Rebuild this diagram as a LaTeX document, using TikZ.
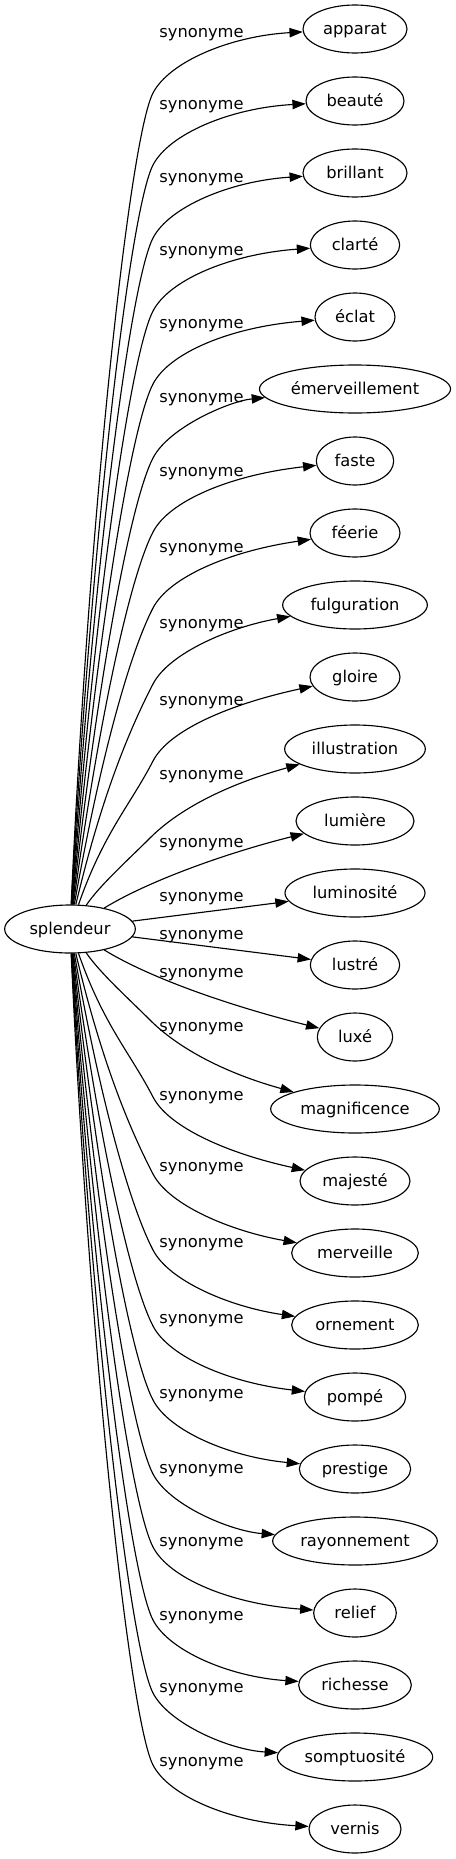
\documentclass[tikz,border=0pt]{standalone}
\usepackage{fontspec}
\setmainfont{DejaVu Sans}
\usetikzlibrary{arrows.meta,shapes.geometric}
\tikzset{
  term/.style={draw, ellipse, line width=0.85pt, inner sep=0pt, minimum height=36pt,
    text height=9.2pt, text depth=0.6pt, font=\fontsize{12.2pt}{14pt}\selectfont, minimum width=#1},
  lbl/.style={anchor=base, inner sep=0pt, font=\fontsize{12.2pt}{14pt}\selectfont},
  syn/.style={line width=0.85pt, -{Triangle[length=10pt,width=7pt]}},
}
\newcommand\topsyn[3]{\draw[syn] (splendeur) .. controls ({90+1.5*#2},{(965+#3)/2}) and (130,{#3+104.5}) .. (153,{#3+60}) .. controls (169,{#3+29}) and (230,{#3+3}) .. (#1);}
\newcommand\botsyn[3]{\draw[syn] (splendeur) .. controls ({90+1.5*#2},{1858-(965+#3)/2}) and (130,{1858-#3-104.5}) .. (153,{1858-#3-60}) .. controls (169,{1858-#3-29}) and (230,{1858-#3-3}) .. (#1);}
\begin{document}
\begin{tikzpicture}[x=0.75pt,y=-0.75pt]
\useasboundingbox (0,0) rectangle (456,1859);
\node[term=98pt] (splendeur) at (70,929) {splendeur};
\node[term=78pt] (apparat) at (355,29) {apparat};
\node[term=73.5pt] (beaute) at (355,101) {beauté};
\node[term=78pt] (brillant) at (355,173) {brillant};
\node[term=67pt] (clarte) at (355,245) {clarté};
\node[term=60pt] (eclat) at (355,317) {éclat};
\node[term=143.3pt] (emerveillement) at (355,389) {émerveillement};
\node[term=58pt] (faste) at (355,461) {faste};
\node[term=67.5pt] (feerie) at (355,533) {féerie};
\node[term=108.5pt] (fulguration) at (355,605) {fulguration};
\node[term=67.5pt] (gloire) at (355,677) {gloire};
\node[term=105.5pt] (illustration) at (355,749) {illustration};
\node[term=88.5pt] (lumiere) at (355,821) {lumière};
\node[term=105pt] (luminosite) at (355,893) {luminosité};
\node[term=67pt] (lustre) at (355,965) {lustré};
\node[term=56.5pt] (luxe) at (355,1037) {luxé};
\node[term=126.5pt] (magnificence) at (355,1109) {magnificence};
\node[term=82.5pt] (majeste) at (355,1181) {majesté};
\node[term=95pt] (merveille) at (355,1253) {merveille};
\node[term=95pt] (ornement) at (355,1325) {ornement};
\node[term=76pt] (pompe) at (355,1397) {pompé};
\node[term=83.5pt] (prestige) at (355,1469) {prestige};
\node[term=123.5pt] (rayonnement) at (355,1541) {rayonnement};
\node[term=62pt] (relief) at (355,1613) {relief};
\node[term=84.5pt] (richesse) at (355,1685) {richesse};
\node[term=116.5pt] (somptuosite) at (355,1757) {somptuosité};
\node[term=69pt] (vernis) at (355,1829) {vernis};
% labels
\node[lbl] (l0) at (201.5,37.5) {synonyme};
\node[lbl] (l1) at (201.5,109.5) {synonyme};
\node[lbl] (l2) at (201.5,182.5) {synonyme};
\node[lbl] (l3) at (201.5,255) {synonyme};
\node[lbl] (l4) at (201.5,328.5) {synonyme};
\node[lbl] (l5) at (201.5,402.5) {synonyme};
\node[lbl] (l6) at (201.5,476.5) {synonyme};
\node[lbl] (l7) at (201.5,552.5) {synonyme};
\node[lbl] (l8) at (201.5,628.5) {synonyme};
\node[lbl] (l9) at (201.5,705.5) {synonyme};
\node[lbl] (l10) at (201.5,779.5) {synonyme};
\node[lbl] (l11) at (201.5,847.5) {synonyme};
\node[lbl] (l12) at (201.5,901.5) {synonyme};
\node[lbl] (l13) at (201.5,939.5) {synonyme};
\node[lbl] (l14) at (201.5,977.5) {synonyme};
\node[lbl] (l15) at (201.5,1031.5) {synonyme};
\node[lbl] (l16) at (201.5,1100.5) {synonyme};
\node[lbl] (l17) at (201.5,1171.5) {synonyme};
\node[lbl] (l18) at (201.5,1247.5) {synonyme};
\node[lbl] (l19) at (201.5,1323.5) {synonyme};
\node[lbl] (l20) at (201.5,1398.5) {synonyme};
\node[lbl] (l21) at (201.5,1473.5) {synonyme};
\node[lbl] (l22) at (201.5,1546.5) {synonyme};
\node[lbl] (l23) at (201.5,1620.5) {synonyme};
\node[lbl] (l24) at (201.5,1692.5) {synonyme};
\node[lbl] (l25) at (201.5,1766) {synonyme};
% edges
\topsyn{apparat}{0}{33}
\topsyn{beaute}{1}{105}
\topsyn{brillant}{2}{178}
\topsyn{clarte}{3}{251}
\topsyn{eclat}{4}{324}
\topsyn{emerveillement}{5}{398}
\topsyn{faste}{6}{472}
\topsyn{feerie}{7}{548}
\topsyn{fulguration}{8}{624}
\topsyn{gloire}{9}{701}
\draw[syn] (splendeur) .. controls (100,885) and (128.8,859.2) .. (150,838) .. controls (178.3,809.7) and (225,785) .. (illustration);
\draw[syn] (splendeur) .. controls (150,880) and (230,852) .. (lumiere);
\draw[syn] (splendeur) -- (luminosite);
\draw[syn] (splendeur) -- (lustre);
\draw[syn] (splendeur) .. controls (150,978) and (230,1006) .. (luxe);
\draw[syn] (splendeur) .. controls (100,973) and (128.8,998.8) .. (150,1020) .. controls (178.3,1048.3) and (225,1073) .. (magnificence);
\botsyn{majeste}{9}{701}
\botsyn{merveille}{8}{624}
\botsyn{ornement}{7}{548}
\botsyn{pompe}{6}{472}
\botsyn{prestige}{5}{398}
\botsyn{rayonnement}{4}{324}
\botsyn{relief}{3}{251}
\botsyn{richesse}{2}{178}
\botsyn{somptuosite}{1}{105}
\botsyn{vernis}{0}{33}
\end{tikzpicture}
\end{document}
